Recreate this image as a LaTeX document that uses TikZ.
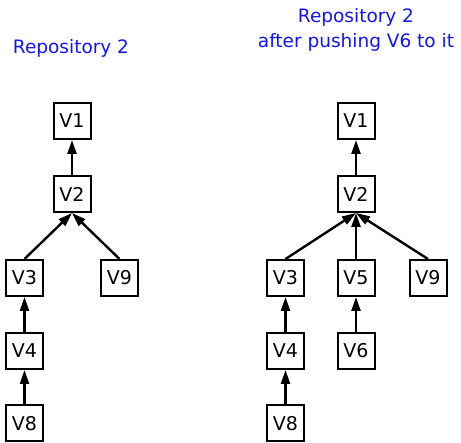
\documentclass[tikz,border=0pt]{standalone}
\usepackage{fontspec}
\setmainfont{DejaVu Sans}
\usetikzlibrary{arrows.meta}
\definecolor{titleblue}{RGB}{20,20,245}
\begin{document}
\begin{tikzpicture}[x=1pt,y=-1pt,
  ver/.style={draw,line width=2pt,minimum width=37pt,minimum height=36pt,inner sep=0pt,font=\fontsize{19}{21}\selectfont},
  edge/.style={line width=2.4pt,-{Triangle[length=14pt,width=9pt]}},
  ttl/.style={text=titleblue,font=\fontsize{18.5}{25}\selectfont,align=center}]
\useasboundingbox (0,0) rectangle (461,443);
% left
\node[ttl] (tl) at (71,48) {Repository 2};
\node[ver] (a1) at (72,121) {V1};
\node[ver] (a2) at (72,194) {V2};
\node[ver] (a3) at (24.5,278) {V3};
\node[ver] (a9) at (119.5,278) {V9};
\node[ver] (a4) at (24.5,351) {V4};
\node[ver] (a8) at (24.5,423.5) {V8};
\draw[edge] (a2) -- (a1);
\draw[edge] (a3.north) -- (a2.south);
\draw[edge] (a9.north) -- (a2.south);
\draw[edge] (a4) -- (a3);
\draw[edge] (a8) -- (a4);
% right
\node[ttl] (tr) at (356,30) {Repository 2\\after pushing V6 to it};
\node[ver] (b1) at (356,121) {V1};
\node[ver] (b2) at (356,194) {V2};
\node[ver] (b3) at (285.5,278) {V3};
\node[ver] (b5) at (356,278) {V5};
\node[ver] (b9) at (428,278) {V9};
\node[ver] (b4) at (285.5,351) {V4};
\node[ver] (b6) at (356,351) {V6};
\node[ver] (b8) at (285.5,423.5) {V8};
\draw[edge] (b2) -- (b1);
\draw[edge] (b3.north) -- (b2.south);
\draw[edge] (b5) -- (b2);
\draw[edge] (b9.north) -- (b2.south);
\draw[edge] (b4) -- (b3);
\draw[edge] (b6) -- (b5);
\draw[edge] (b8) -- (b4);
\end{tikzpicture}
\end{document}
